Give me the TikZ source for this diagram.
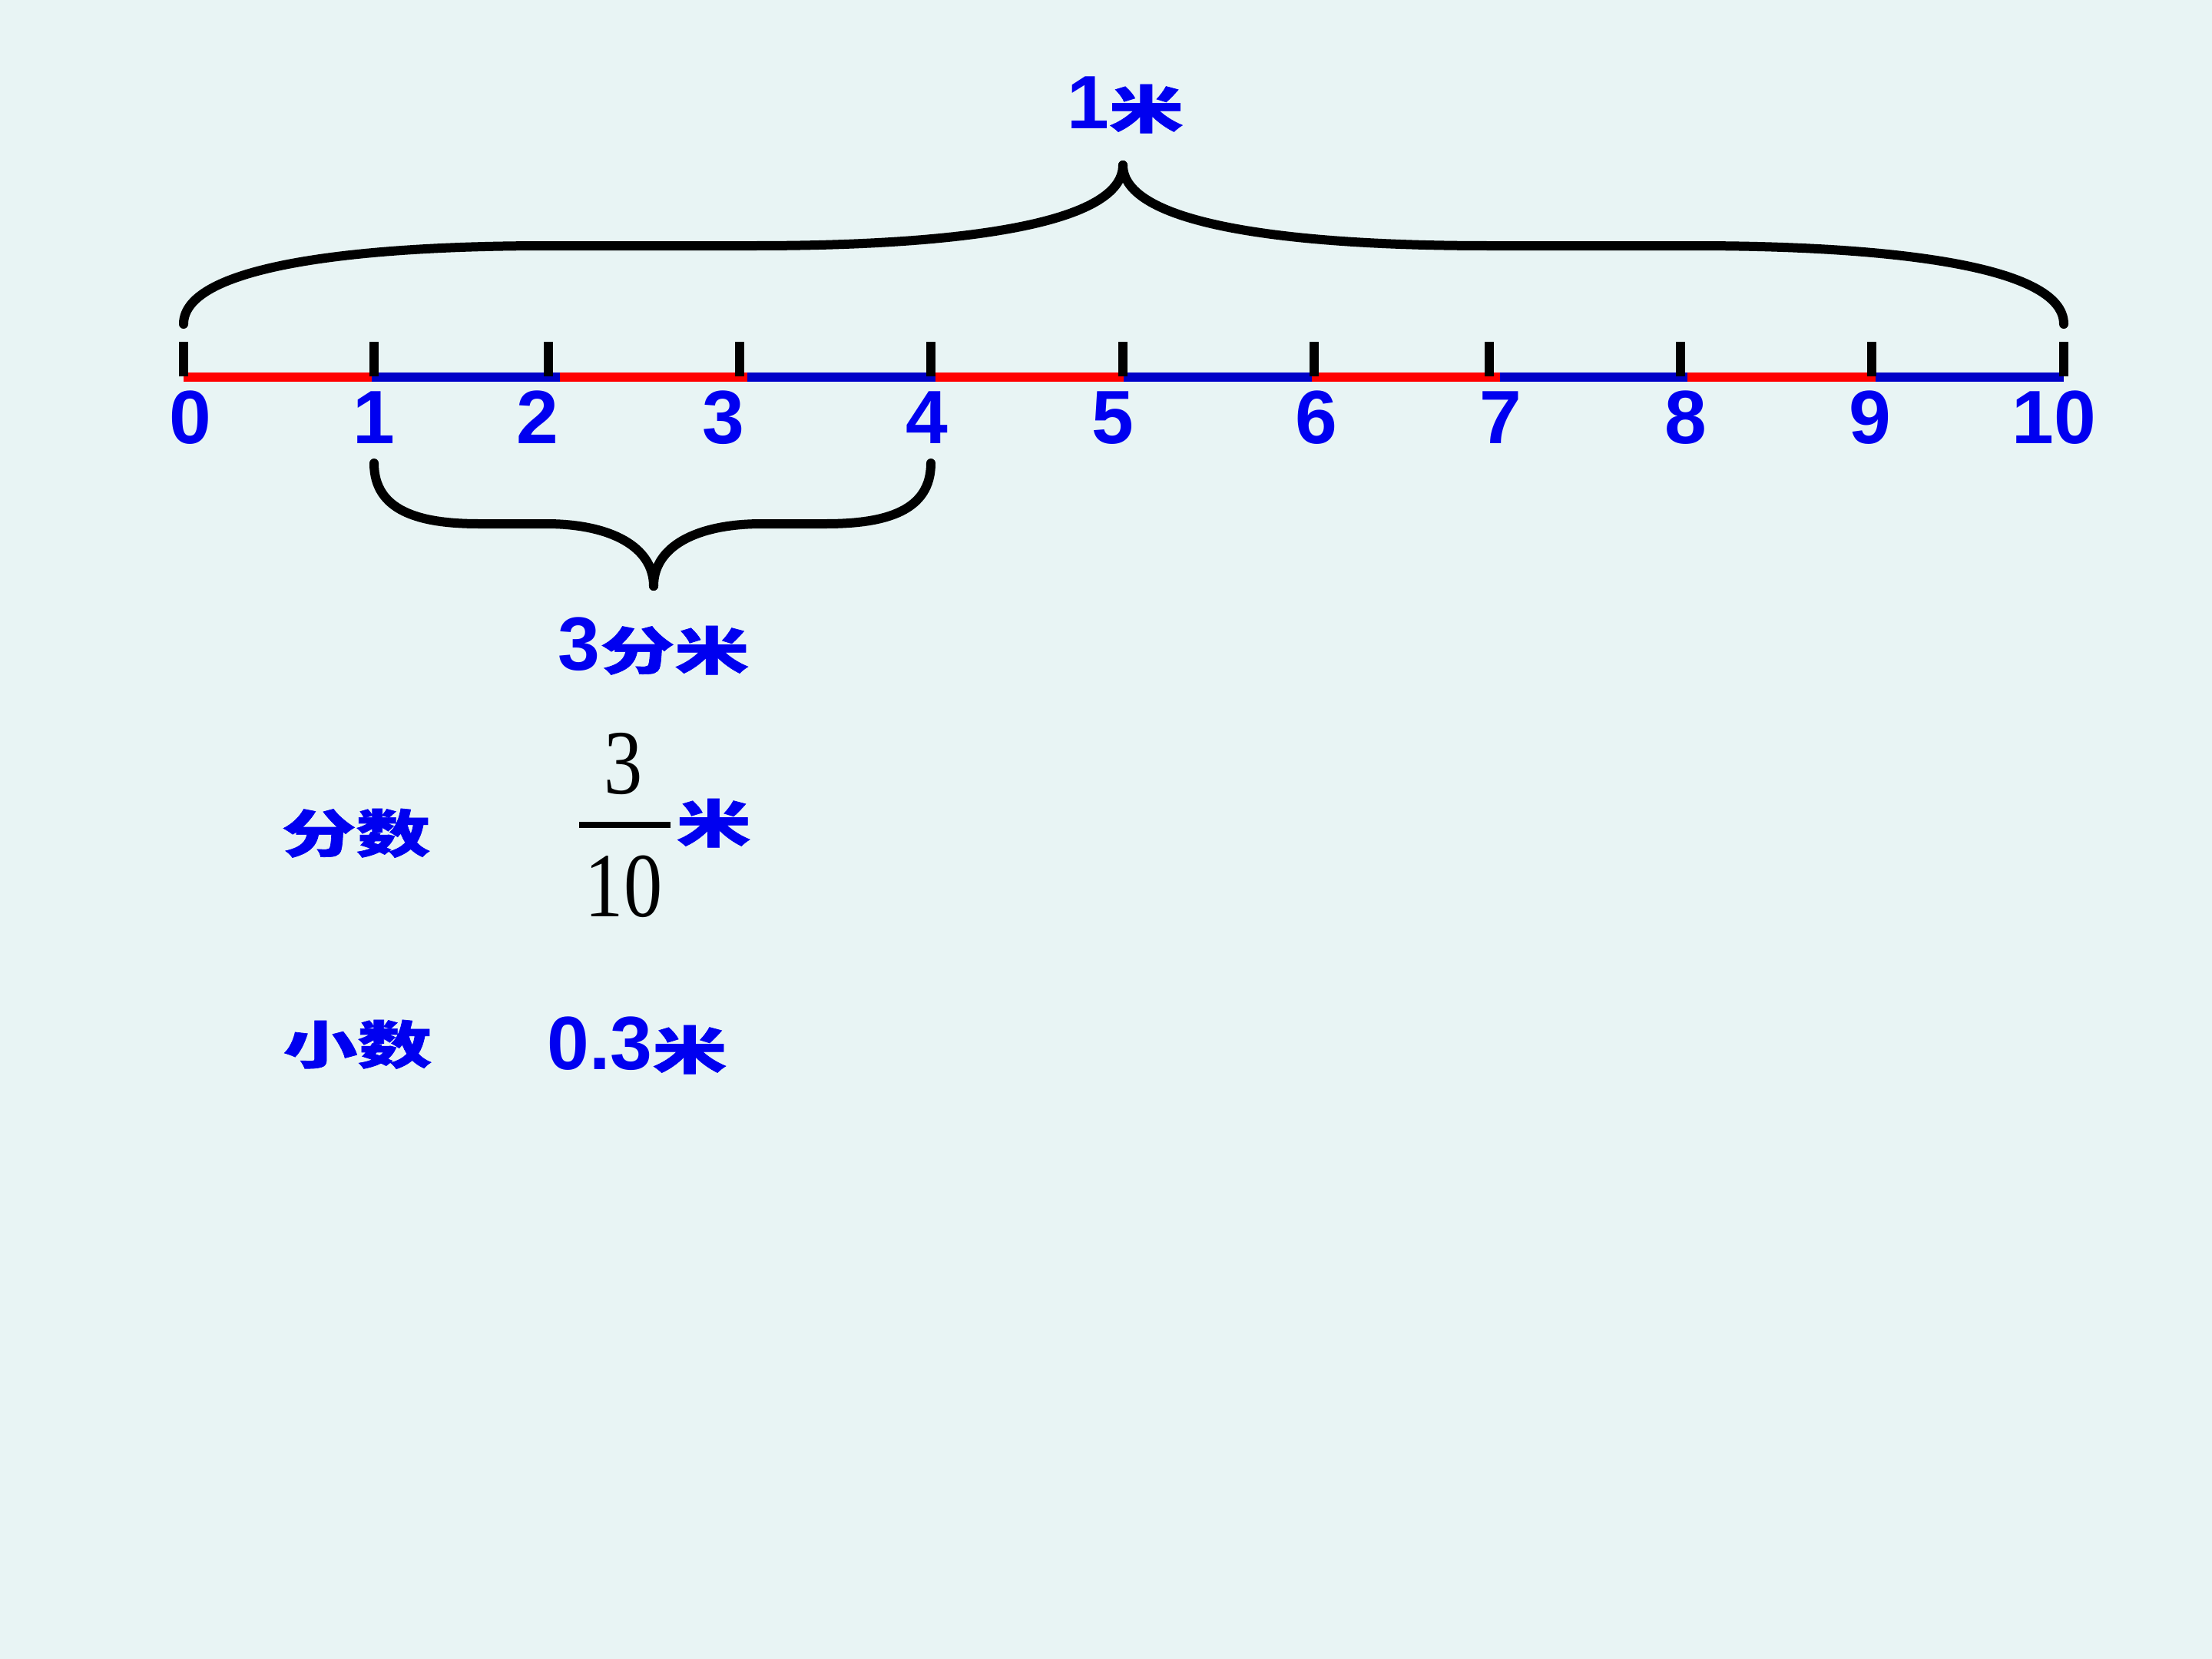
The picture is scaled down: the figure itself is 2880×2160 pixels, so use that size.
\documentclass[tikz,border=0pt]{standalone}
\usepackage{fontspec}
\setmainfont{Liberation Sans}
\newfontfamily\cjk[FakeStretch=1.45,FakeBold=1]{Noto Sans CJK SC}
\newfontfamily\timesnum[FakeStretch=0.84]{Liberation Serif}
\definecolor{bg}{HTML}{E8F4F4}
\definecolor{txtblue}{HTML}{0000F0}
\definecolor{segred}{HTML}{FF0000}
\definecolor{segblue}{HTML}{0000C8}
\newcommand{\hanzi}[1]{{\cjk\bfseries\fontsize{19}{20}\selectfont #1}}
\tikzset{
  num/.style={font=\fontsize{28}{30}\selectfont\bfseries,text=txtblue,inner sep=0pt},
  zh/.style={text=txtblue,inner sep=0pt},
  tickmark/.style={draw=black,line width=1.2mm},
  seg/.style={line width=1.15mm},
  brace/.style={draw=black,line width=1.2mm,line cap=round},
  frac/.style={font=\timesnum\fontsize{34}{36}\selectfont,text=black,inner sep=0pt},
}
\begin{document}
\begin{tikzpicture}[x=0.1mm,y=-0.1mm]
\fill[bg] (0,0) rectangle (2880,2160);
\useasboundingbox (0,0) rectangle (2880,2160);

% the metre, cut in ten
\foreach \i in {0,...,9}{
  \pgfmathsetmacro\xa{239+244.8*\i}
  \pgfmathsetmacro\xb{239+244.8*(\i+1)}
  \ifodd\i \def\segcol{segblue}\else\def\segcol{segred}\fi
  \draw[seg,draw=\segcol] (\xa,491) -- (\xb,491);
}
\foreach \x [count=\i from 0] in {239,487,714,963,1212,1462,1711,1939,2188,2437,2687}{
  \coordinate (t\i) at (\x,490);
  \draw[tickmark] (t\i) -- ++(0,-45);
}
\foreach \x [count=\i from 0] in {248,487,700,942,1207,1449,1714,1954,2195,2435,2674}
  \node[num,anchor=base] (n\i) at (\x,577) {\i};

% braces
\draw[brace] (239,422) .. controls (239,345) and (470,320) .. (713,320) -- (981,320)
  .. controls (1260,320) and (1462,290) .. (1462,215);
\draw[brace] (2687,422) .. controls (2687,345) and (2456,320) .. (2204,320) -- (1940,320)
  .. controls (1665,320) and (1462,290) .. (1462,215);
\node[num,anchor=base] (whole) at (1465,167) {1\hanzi{米}};

\draw[brace] (487,603) .. controls (487,665) and (545,682) .. (624,682) -- (711,682)
  .. controls (795,682) and (851,712) .. (851,763);
\draw[brace] (1212,603) .. controls (1212,665) and (1154,682) .. (1075,682) -- (992,682)
  .. controls (906,682) and (851,712) .. (851,763);
\node[num,anchor=base] (part) at (851,872) {3\hanzi{分米}};

% fraction and decimal
\node[zh,anchor=base west] (fenshu) at (366,1110) {\hanzi{分数}};
\node[frac,anchor=base] (fnum) at (812,1033) {3};
\node[frac,anchor=base] (fden) at (812,1193) {10};
\draw[line width=0.8mm] (754,1074) -- (873,1074);
\node[zh,anchor=base west] (fmi) at (880,1097) {\hanzi{米}};

\node[zh,anchor=base west] (xiaoshu) at (368,1385) {\hanzi{小数}};
\node[num,anchor=base west] (dec) at (712,1392) {0.3\hanzi{米}};
\end{tikzpicture}
\end{document}
